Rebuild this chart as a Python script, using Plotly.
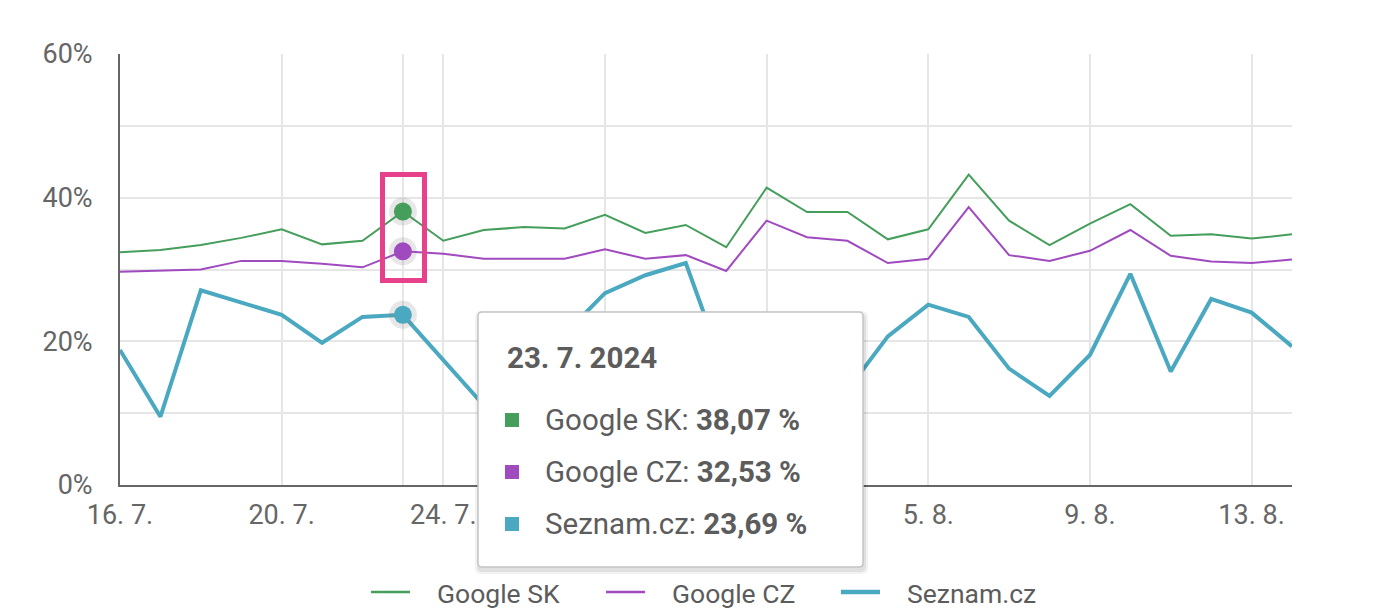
import plotly.graph_objects as go

# Daily share of search traffic, 16. 7. – 14. 8. 2024
dates = [
    "2024-07-16", "2024-07-17", "2024-07-18", "2024-07-19", "2024-07-20",
    "2024-07-21", "2024-07-22", "2024-07-23", "2024-07-24", "2024-07-25",
    "2024-07-26", "2024-07-27", "2024-07-28", "2024-07-29", "2024-07-30",
    "2024-07-31", "2024-08-01", "2024-08-02", "2024-08-03", "2024-08-04",
    "2024-08-05", "2024-08-06", "2024-08-07", "2024-08-08", "2024-08-09",
    "2024-08-10", "2024-08-11", "2024-08-12", "2024-08-13", "2024-08-14",
]
google_sk = [
    32.4, 32.7, 33.4, 34.4, 35.6, 33.5, 34.0, 38.07, 34.0, 35.5,
    35.9, 35.7, 37.6, 35.1, 36.2, 33.1, 41.4, 38.0, 38.0, 34.2,
    35.6, 43.2, 36.8, 33.4, 36.4, 39.1, 34.7, 34.9, 34.3, 34.9,
]
google_cz = [
    29.7, 29.8, 30.0, 31.2, 31.2, 30.8, 30.3, 32.53, 32.2, 31.5,
    31.5, 31.5, 32.8, 31.5, 32.0, 29.8, 36.8, 34.5, 34.0, 30.9,
    31.5, 38.7, 32.0, 31.2, 32.6, 35.5, 31.9, 31.1, 30.9, 31.4,
]
seznam = [
    18.8, 9.5, 27.1, 25.4, 23.7, 19.8, 23.4, 23.69, 17.3, 11.1,
    14.0, 21.0, 26.7, 29.2, 30.9, 15.3, 18.0, 16.0, 13.2, 20.7,
    25.1, 23.4, 16.2, 12.4, 18.1, 29.4, 15.8, 25.9, 24.0, 19.3,
]

series_names = ["Google SK", "Google CZ", "Seznam.cz"]
series_colors = ["#459e5b", "#a04abf", "#4aa8c0"]
series_widths = [2, 2, 4]

y_ticks = [0, 10, 20, 30, 40, 50, 60]
y_tick_text = ["0%", "", "20%", "", "40%", "", "60%"]
x_ticks = ["2024-07-16", "2024-07-20", "2024-07-24", "2024-07-28",
           "2024-08-01", "2024-08-05", "2024-08-09", "2024-08-13"]
x_tick_text = ["16. 7.", "20. 7.", "24. 7.", "28. 7.", "1. 8.", "5. 8.", "9. 8.", "13. 8."]

focus_index = 7
focus_title = "23. 7. 2024"

W, H = 1378, 616
L, R, T, B = 120, 86, 54, 131
PW, PH = W - L - R, H - T - B
FONT = "Roboto"
TEXT = "#666666"
DARK_TEXT = "#5c5c5c"
GRID = "#e6e6e6"


def px(x):
    return (x - L) / PW


def py(y):
    return (H - B - y) / PH


def rounded_rect(x0, y0, x1, y1, r):
    rx, ry = r / PW, r / PH
    a, b, c, d = px(x0), py(y1), px(x1), py(y0)
    return (f"M{a + rx},{b} L{c - rx},{b} Q{c},{b} {c},{b + ry} "
            f"L{c},{d - ry} Q{c},{d} {c - rx},{d} L{a + rx},{d} "
            f"Q{a},{d} {a},{d - ry} L{a},{b + ry} Q{a},{b} {a + rx},{b} Z")


fig = go.Figure()
all_series = [google_sk, google_cz, seznam]
for name, vals, col, w in zip(series_names, all_series, series_colors, series_widths):
    fig.add_trace(go.Scatter(
        x=dates, y=vals, name=name, mode="lines", showlegend=False,
        line=dict(color=col, width=w), hoverinfo="skip",
    ))

# highlighted points of the focused day
fx = [dates[focus_index]] * 3
fy = [s[focus_index] for s in all_series]
fig.add_trace(go.Scatter(
    x=fx, y=fy, mode="markers", showlegend=False, hoverinfo="skip",
    marker=dict(size=28, color="rgba(120,120,120,0.18)", line=dict(width=0)),
))
fig.add_trace(go.Scatter(
    x=fx, y=fy, mode="markers", showlegend=False, hoverinfo="skip",
    marker=dict(size=18, color=series_colors, line=dict(width=0)),
))

shapes = []
annotations = []
# crosshair on focused day
shapes.append(dict(type="line", xref="x", yref="paper", x0=dates[focus_index],
                   x1=dates[focus_index], y0=0, y1=1,
                   line=dict(color=GRID, width=2), layer="below"))
# pink frame around the focused points
shapes.append(dict(type="rect", xref="paper", yref="paper",
                   x0=px(382.5), x1=px(424.5), y0=py(280.5), y1=py(174.5),
                   line=dict(color="#e8418c", width=5), layer="above"))
# tooltip box with soft shadow
for off, op in [(4, 0.05), (2, 0.07)]:
    shapes.append(dict(type="path", xref="paper", yref="paper",
                       path=rounded_rect(478 - off + 1, 312 - off + 3, 863 + off + 1, 567 + off + 3, 6),
                       fillcolor=f"rgba(0,0,0,{op})", line=dict(width=0), layer="above"))
shapes.append(dict(type="path", xref="paper", yref="paper",
                   path=rounded_rect(478, 312, 863, 567, 4),
                   fillcolor="white", line=dict(color="#c4c4c4", width=1.5), layer="above"))

annotations.append(dict(
    xref="paper", yref="paper", x=px(505), y=py(358), xanchor="left", yanchor="middle",
    text=f"<b>{focus_title}</b>", showarrow=False,
    font=dict(family=FONT, size=29.5, color=DARK_TEXT),
))
row_y = [420, 472, 524]
for name, vals, col, ry in zip(series_names, all_series, series_colors, row_y):
    shapes.append(dict(type="rect", xref="paper", yref="paper",
                       x0=px(505), x1=px(519), y0=py(ry + 7), y1=py(ry - 7),
                       fillcolor=col, line=dict(width=0), layer="above"))
    val = f"{vals[focus_index]:.2f}".replace(".", ",")
    annotations.append(dict(
        xref="paper", yref="paper", x=px(543), y=py(ry), xanchor="left", yanchor="middle",
        text=f"{name}: <b>{val} %</b>", showarrow=False,
        font=dict(family=FONT, size=29.5, color=DARK_TEXT),
    ))

# legend row below the chart
legend_x = [371, 606, 841]
legend_y = 592
for name, col, w, lx in zip(series_names, series_colors, series_widths, legend_x):
    shapes.append(dict(type="line", xref="paper", yref="paper",
                       x0=px(lx), x1=px(lx + 39), y0=py(legend_y), y1=py(legend_y),
                       line=dict(color=col, width=w + 0.5)))
    annotations.append(dict(
        xref="paper", yref="paper", x=px(lx + 64), y=py(legend_y + 1),
        xanchor="left", yanchor="middle", text=name, showarrow=False,
        font=dict(family=FONT, size=26.5, color=DARK_TEXT),
    ))

fig.update_layout(
    width=W, height=H,
    margin=dict(l=L, r=R, t=T, b=B, autoexpand=False),
    paper_bgcolor="white", plot_bgcolor="white",
    font=dict(family=FONT, color=TEXT, size=24),
    showlegend=False,
    xaxis=dict(
        range=[dates[0], dates[-1]], tickvals=x_ticks, ticktext=x_tick_text,
        showgrid=True, gridcolor=GRID, gridwidth=2,
        showline=True, linecolor="#666666", linewidth=2,
        ticks="", ticklabelstandoff=5, zeroline=False, automargin=False,
        tickfont=dict(family=FONT, size=27, color=TEXT),
    ),
    yaxis=dict(
        range=[0, 60], tickvals=y_ticks, ticktext=y_tick_text,
        showgrid=True, gridcolor=GRID, gridwidth=2,
        showline=True, linecolor="#666666", linewidth=2,
        ticks="", ticklabelstandoff=20, zeroline=False, automargin=False,
        tickfont=dict(family=FONT, size=27, color=TEXT),
    ),
    shapes=shapes, annotations=annotations,
)

fig.write_html("out.html")
